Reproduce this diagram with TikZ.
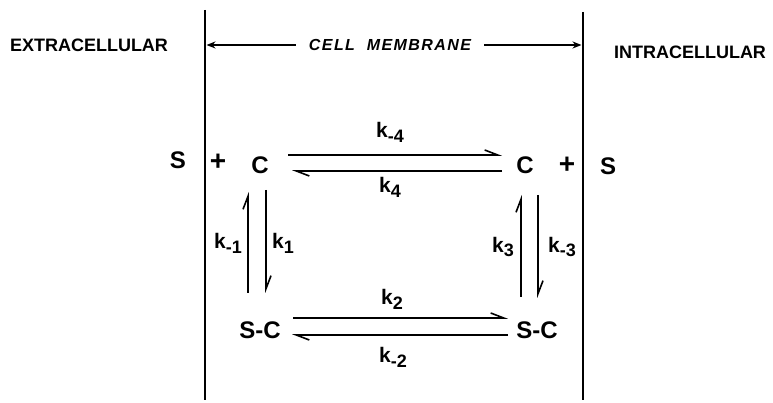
\documentclass[tikz,border=0pt]{standalone}
\usepackage{fontspec}
\setmainfont{Liberation Sans}
\newfontfamily\membfont[LetterSpace=9]{Liberation Sans}
\usetikzlibrary{arrows.meta}
\tikzset{
  species/.style={inner sep=0pt,font=\fontsize{24}{24}\selectfont\bfseries},
  pluslbl/.style={inner sep=0pt,font=\fontsize{28}{28}\selectfont\bfseries},
  ratelbl/.style={inner sep=0pt,font=\fontsize{21}{21}\selectfont\bfseries},
  sidelbl/.style={inner sep=0pt,font=\fontsize{18}{18}\selectfont\bfseries},
  membrane/.style={line width=2.6pt},
  harp/.style={line width=1.6pt,-{Straight Barb[harpoon,length=13pt,width=10pt]}},
  dimarr/.style={line width=1.6pt,-{Stealth[length=9pt,width=7pt]},
                 shorten >=1.5pt}
}
\newcommand{\krate}[1]{k\raisebox{-0.45ex}{\fontsize{18}{18}\selectfont#1}}
\begin{document}
\begin{tikzpicture}[x=1pt,y=1pt]
  \useasboundingbox[fill=white] (0,0) rectangle (773,403);
  % membrane walls
  \coordinate (mLtop) at (205,393);
  \coordinate (mLbot) at (205,3);
  \coordinate (mRtop) at (583,391);
  \coordinate (mRbot) at (583,3);
  \draw[membrane] (mLtop) -- (mLbot);
  \draw[membrane] (mRtop) -- (mRbot);
  % headings
  \node[sidelbl] (extra) at (89,358) {EXTRACELLULAR};
  \node[sidelbl] (intra) at (690,351) {INTRACELLULAR};
  \node[inner ysep=0pt,inner xsep=13pt,
        font=\fontsize{16}{16}\membfont\bfseries\itshape] (memb) at (390,358)
    {CELL\ \ MEMBRANE};
  \draw[dimarr] (memb.west) -- (memb.west -| mLtop);
  \draw[dimarr] (memb.east) -- (memb.east -| mRtop);
  % species
  \node[species] (sL) at (178,243) {S};
  \node[pluslbl] (plusL) at (218,241) {+};
  \node[species] (cL) at (260,238) {C};
  \node[species] (cR) at (525,238) {C};
  \node[pluslbl] (plusR) at (567,238) {+};
  \node[species] (sR) at (608,237) {S};
  \node[species] (scL) at (260,73) {S-C};
  \node[species] (scR) at (537,73) {S-C};
  % top pair
  \draw[harp] ([shift={(28pt,10pt)}]cL.center) -- ([shift={(-23pt,10pt)}]cR.center);
  \draw[harp] ([shift={(-23pt,-6pt)}]cR.center) -- ([shift={(32pt,-6pt)}]cL.center);
  % bottom pair
  \draw[harp] ([shift={(33pt,12pt)}]scL.center) -- ([shift={(-29pt,12pt)}]scR.center);
  \draw[harp] ([shift={(-29pt,-5pt)}]scR.center) -- ([shift={(32pt,-5pt)}]scL.center);
  % left pair
  \draw[harp] ([shift={(-12pt,37pt)}]scL.center) -- ([shift={(-12pt,-27pt)}]cL.center);
  \draw[harp] ([shift={(6pt,-25pt)}]cL.center) -- ([shift={(6pt,37pt)}]scL.center);
  % right pair
  \draw[harp] ([shift={(-16pt,33pt)}]scR.center) -- ([shift={(-4pt,-30pt)}]cR.center);
  \draw[harp] ([shift={(13pt,-30pt)}]cR.center) -- ([shift={(1pt,32pt)}]scR.center);
  % rate constants
  \node[ratelbl] (km4) at (390,271) {\krate{-4}};
  \node[ratelbl] (k4) at (390,216) {\krate{4}};
  \node[ratelbl] (k2) at (392,104) {\krate{2}};
  \node[ratelbl] (km2) at (393,46) {\krate{-2}};
  \node[ratelbl] (km1) at (228,160) {\krate{-1}};
  \node[ratelbl] (k1) at (283,160) {\krate{1}};
  \node[ratelbl] (k3) at (503,156) {\krate{3}};
  \node[ratelbl] (km3) at (562,156) {\krate{-3}};
\end{tikzpicture}
\end{document}
